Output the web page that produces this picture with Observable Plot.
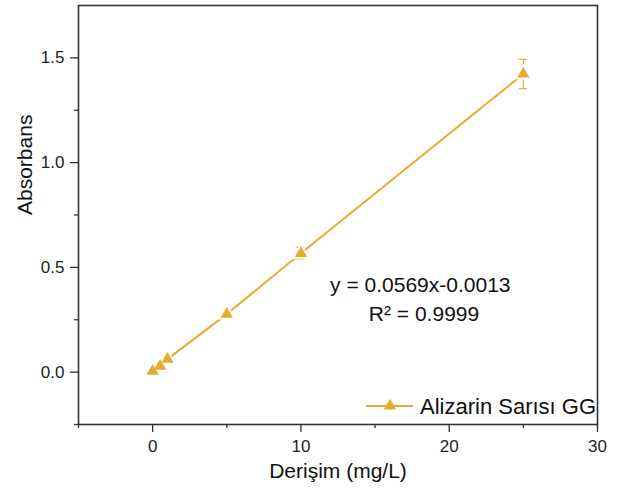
<!DOCTYPE html>
<html><head><meta charset="utf-8">
<script src="https://cdn.jsdelivr.net/npm/d3@7"></script>
<script src="https://cdn.jsdelivr.net/npm/@observablehq/plot@0.6"></script>
<style>
body{margin:0;background:#fff;font-family:"Liberation Sans",Arial,sans-serif}
#wrap{position:relative;width:619px;height:495px}
#legend{position:absolute;left:362px;top:393px}
</style>
</head><body><div id="wrap"></div>
<script>
const concentrations = [0, 0.5, 1, 5, 10, 25];
const absorbances = [0.005, 0.029, 0.062, 0.277, 0.567, 1.423];
const errors = [0.004, 0.004, 0.005, 0.008, 0.027, 0.07];
const seriesName = "Alizarin Sarısı GG";
const xMajorTicks = [0, 10, 20, 30];
const xMinorTicks = [-5, 5, 15, 25];
const yMajorTicks = [0, 0.5, 1, 1.5];
const yMinorTicks = [-0.25, 0.25, 0.75, 1.25];
const equationText = "y = 0.0569x-0.0013";
const r2Text = "R² = 0.9999";
const xTitle = "Derişim (mg/L)";
const yTitle = "Absorbans";
const color = "#E6AC2E";
const axisColor = "#333";

const data = concentrations.map((c, i) => ({x: c, y: absorbances[i], e: errors[i]}));
const capHalf = 0.27;

const chart = Plot.plot({
  width: 619, height: 495,
  marginLeft: 78, marginRight: 22, marginTop: 5, marginBottom: 71,
  style: {fontFamily: "Liberation Sans, Arial, sans-serif", background: "#fff", color: "#222"},
  x: {domain: [-5, 30]},
  y: {domain: [-0.25, 1.75]},
  marks: [
    Plot.axisX({ticks: xMajorTicks, tickSize: 8, tickPadding: 7, fontSize: 17, label: null, stroke: axisColor, strokeWidth: 1.3}),
    Plot.axisX({ticks: xMinorTicks, tickSize: 4, text: null, label: null, stroke: axisColor, strokeWidth: 1.3}),
    Plot.axisY({ticks: yMajorTicks, tickSize: 8, tickPadding: 6, fontSize: 17, tickFormat: d3.format(".1f"), label: null, stroke: axisColor, strokeWidth: 1.3}),
    Plot.axisY({ticks: yMinorTicks, tickSize: 4, text: null, label: null, stroke: axisColor, strokeWidth: 1.3}),
    Plot.frame({stroke: axisColor, strokeWidth: 1.6}),
    Plot.line(data, {x: "x", y: "y", stroke: color, strokeWidth: 2}),
    Plot.ruleX(data, {x: "x", y1: d => d.y - d.e, y2: d => d.y + d.e, stroke: color, strokeWidth: 1.2}),
    Plot.ruleY(data, {y: d => d.y - d.e, x1: d => d.x - capHalf, x2: d => d.x + capHalf, stroke: color, strokeWidth: 1.2}),
    Plot.ruleY(data, {y: d => d.y + d.e, x1: d => d.x - capHalf, x2: d => d.x + capHalf, stroke: color, strokeWidth: 1.2}),
    Plot.dot(data, {x: "x", y: "y", symbol: "triangle", r: 6.8, fill: "#fff", stroke: "none"}),
    Plot.dot(data, {x: "x", y: "y", symbol: "triangle", r: 4.6, fill: color, stroke: "none"}),
    Plot.text([equationText], {x: 18.05, y: 0.416, fontSize: 21, fill: "#111"}),
    Plot.text([r2Text], {x: 18.3, y: 0.277, fontSize: 21, fill: "#111"}),
    Plot.text([xTitle], {frameAnchor: "bottom", dy: 53, fontSize: 21, fill: "#111"}),
    Plot.text([yTitle], {frameAnchor: "left", dx: -53, rotate: -90, fontSize: 21, fill: "#111"})
  ]
});
const wrap = document.getElementById("wrap");
wrap.appendChild(chart);

const legend = document.createElement("div");
legend.id = "legend";
legend.innerHTML = `<svg width="240" height="28" style="overflow:visible">
  <line x1="4" x2="51" y1="13" y2="13" stroke="${color}" stroke-width="2"/>
  <path d="${d3.symbol(d3.symbolTriangle, Math.PI * 4.6 * 4.6)()}" transform="translate(28,13)" fill="${color}"/>
  <text x="58" y="20.5" font-size="22" fill="#111" font-family="Liberation Sans, Arial, sans-serif">${seriesName}</text>
</svg>`;
wrap.appendChild(legend);
</script>
</body></html>
